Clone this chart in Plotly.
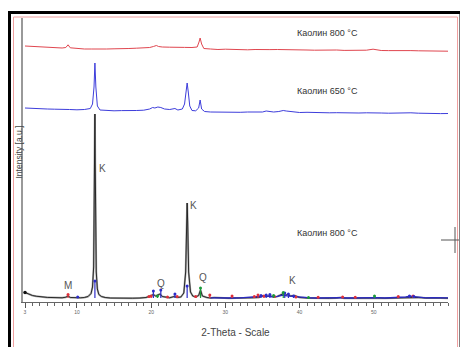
import plotly.graph_objects as go

# ---------------- data (2-Theta in degrees, intensity in counts) ----------------
raw_theta = [3.0, 3.3, 3.6, 4.0, 4.5, 5.0, 5.5, 6.0, 6.5, 7.0, 7.5, 8.0, 8.5, 8.8, 9.1, 9.5, 10.0,
             10.5, 11.0, 11.5, 11.9, 12.1, 12.25, 12.33, 12.38, 12.42, 12.46, 12.52, 12.6, 12.75,
             12.95, 13.3, 13.8, 14.5, 15.5, 16.5, 17.5, 18.5, 19.3, 19.9, 20.3, 20.6, 20.9, 21.2,
             21.5, 22.0, 22.5, 23.1, 23.5, 24.0, 24.4, 24.65, 24.78, 24.85, 24.92, 25.05, 25.3,
             25.6, 26.0, 26.4, 26.65, 26.9, 27.5, 28.0, 28.5, 29.5, 30.5, 31.5, 32.5, 33.5, 34.5,
             35.0, 35.5, 36.0, 36.5, 37.0, 37.7, 38.0, 38.4, 38.8, 39.3, 40.0, 41.0, 42.0, 43.0,
             44.0, 45.0, 45.5, 46.0, 47.0, 48.0, 49.0, 50.0, 50.5, 51.5, 52.5, 53.5, 54.5, 55.0,
             55.5, 56.0, 57.0, 58.0, 59.0, 60.0]
raw_int = [95, 85, 75, 65, 58, 52, 50, 46, 45, 44, 42, 42, 48, 60, 45, 42, 40,
           42, 45, 55, 85, 150, 350, 800, 1400, 1880, 1400, 700, 300, 130,
           75, 55, 45, 40, 38, 36, 38, 40, 45, 60, 75, 60, 70, 80,
           55, 45, 42, 55, 45, 50, 90, 300, 800, 990, 800, 300, 100,
           60, 50, 65, 120, 60, 45, 40, 45, 40, 38, 40, 38, 42, 45,
           60, 55, 62, 50, 55, 80, 65, 75, 60, 65, 45, 40, 38, 40,
           38, 40, 45, 38, 40, 38, 40, 45, 40, 38, 40, 42, 45, 50,
           48, 45, 40, 42, 40, 38]

base_theta = [28.0, 29.0, 30.0, 31.0, 32.0, 33.0, 34.0, 34.6, 35.2, 35.8, 36.4, 37.0, 37.8, 38.3,
              38.9, 39.5, 40.5, 41.5, 42.5, 43.5, 44.5, 45.5, 46.5, 47.5, 48.5, 49.5, 50.5, 51.5,
              52.5, 53.5, 54.3, 54.9, 55.5, 56.2, 57.0, 58.0, 59.0, 60.0]
base_int = [42, 40, 44, 40, 42, 45, 48, 55, 62, 58, 52, 56, 70, 62, 58, 50, 44, 42, 40, 43,
            41, 44, 40, 42, 40, 42, 44, 40, 42, 44, 50, 58, 52, 46, 42, 44, 41, 42]

k650_theta = [3.0, 4.0, 5.0, 6.0, 7.0, 8.0, 9.0, 10.0, 11.0, 11.8, 12.1, 12.3, 12.42, 12.55,
              12.75, 13.1, 14.0, 15.0, 16.0, 17.0, 18.0, 19.0, 19.8, 20.2, 20.5, 20.9, 21.3,
              21.8, 22.5, 23.2, 23.6, 24.2, 24.5, 24.7, 24.85, 25.0, 25.2, 25.5, 26.0, 26.4,
              26.6, 26.8, 27.2, 28.0, 29.0, 30.0, 31.0, 32.0, 33.0, 34.0, 35.0, 35.5, 36.0,
              36.5, 37.2, 37.8, 38.2, 38.7, 39.2, 40.0, 41.0, 42.0, 43.0, 44.0, 45.0, 46.0,
              47.0, 48.0, 49.0, 50.0, 51.0, 52.0, 53.0, 54.0, 55.0, 56.0, 57.0, 58.0, 59.0, 60.0]
k650_int = [1940, 1935, 1932, 1930, 1928, 1930, 1925, 1922, 1925, 1935, 1980, 2150, 2390, 2150,
            1960, 1920, 1915, 1912, 1914, 1912, 1915, 1918, 1930, 1945, 1940, 1950, 1945,
            1930, 1925, 1935, 1920, 1930, 1980, 2100, 2190, 2100, 1960, 1915, 1912, 1940,
            2020, 1930, 1905, 1900, 1898, 1900, 1898, 1897, 1900, 1902, 1900, 1910, 1905,
            1900, 1905, 1915, 1910, 1905, 1900, 1895, 1897, 1893, 1895, 1892, 1893, 1890,
            1892, 1890, 1892, 1888, 1890, 1888, 1890, 1886, 1892, 1888, 1885, 1887, 1884, 1885]

k800_theta = [3.0, 4.0, 5.0, 6.0, 7.0, 8.0, 8.5, 8.8, 9.1, 10.0, 11.0, 12.0, 13.0, 14.0, 15.0,
              16.0, 17.0, 18.0, 19.0, 19.8, 20.3, 20.7, 21.0, 21.5, 22.5, 23.5, 24.5, 25.5, 26.2,
              26.45, 26.6, 26.8, 27.1, 28.0, 29.0, 30.0, 31.0, 32.0, 33.0, 34.0, 35.0, 36.0,
              37.0, 38.0, 39.0, 40.0, 41.0, 42.0, 43.0, 44.0, 45.0, 46.0, 47.0, 48.0, 49.0,
              49.9, 51.0, 52.0, 53.0, 54.0, 55.0, 56.0, 57.0, 58.0, 59.0, 60.0]
k800_int = [2560, 2555, 2550, 2545, 2545, 2540, 2545, 2572, 2542, 2535, 2530, 2530, 2528, 2530,
            2532, 2530, 2535, 2538, 2540, 2545, 2555, 2565, 2555, 2550, 2548, 2550, 2546, 2545,
            2550, 2600, 2640, 2580, 2535, 2530, 2525, 2528, 2524, 2525, 2522, 2525, 2528, 2524,
            2525, 2522, 2520, 2522, 2520, 2518, 2520, 2518, 2520, 2516, 2518, 2515, 2518,
            2528, 2515, 2514, 2516, 2512, 2514, 2512, 2510, 2512, 2510, 2508]

# phase reference sticks (position, top intensity)
red_stick_pos = [8.8, 19.7, 20.0, 22.2, 23.5, 26.0, 27.9, 30.9, 33.9, 34.4, 35.2, 36.6, 39.5,
                 42.5, 45.8, 47.5, 53.3, 55.3]
red_stick_int = [75, 55, 60, 50, 55, 55, 70, 60, 55, 70, 60, 55, 50, 48, 50, 48, 55, 60]
blue_stick_pos = [10.1, 12.42, 20.3, 21.3, 23.2, 24.85, 34.8, 35.5, 36.0, 38.0, 38.5, 39.2,
                  54.8, 55.4]
blue_stick_int = [50, 210, 110, 120, 80, 160, 65, 70, 75, 90, 80, 60, 60, 55]
green_stick_pos = [20.85, 26.65, 36.5, 37.8, 41.2, 50.1]
green_stick_int = [60, 140, 65, 95, 45, 60]
stick_base = 40

phase_labels = ["M", "K", "Q", "K", "Q", "K"]
phase_label_theta = [8.8, 13.5, 21.3, 25.7, 27.0, 39.0]
phase_label_int = [170, 1340, 190, 970, 250, 220]

sample_labels = ["Каолин 800 °C", "Каолин 650 °C", "Каолин 800 °C"]
sample_label_int = [2690, 2110, 690]
sample_label_theta = 39.4

tick_vals = [3, 10, 20, 30, 40, 50]
tick_text = ["3", "10", "20", "30", "40", "50"]
minor_vals = list(range(3, 61))

X_RANGE = [2.73, 60.0]
Y_RANGE = [0, 2840]

FONT = "Liberation Sans, Arial, sans-serif"

fig = go.Figure()

fig.add_trace(go.Scatter(x=k800_theta, y=k800_int, mode="lines",
                         line=dict(color="#e0464f", width=1), hoverinfo="skip"))
fig.add_trace(go.Scatter(x=k650_theta, y=k650_int, mode="lines",
                         line=dict(color="#3d3ddb", width=1), hoverinfo="skip"))
# grey halo for raw kaolin pattern then black line
fig.add_trace(go.Scatter(x=raw_theta, y=raw_int, mode="lines",
                         line=dict(color="#a8a8a8", width=2), hoverinfo="skip"))
fig.add_trace(go.Scatter(x=raw_theta, y=raw_int, mode="lines",
                         line=dict(color="#1a1a1a", width=0.9), hoverinfo="skip"))
fig.add_trace(go.Scatter(x=raw_theta[:1], y=raw_int[:1], mode="markers",
                         marker=dict(color="#111111", size=3.5), hoverinfo="skip"))
fig.add_trace(go.Scatter(x=base_theta, y=base_int, mode="lines",
                         line=dict(color="#2a2ac0", width=1.3), hoverinfo="skip"))


def sticks(pos, ints, color):
    xs, ys = [], []
    for p, v in zip(pos, ints):
        xs += [p, p, None]
        ys += [stick_base, v, None]
    fig.add_trace(go.Scatter(x=xs, y=ys, mode="lines", line=dict(color=color, width=1.2),
                             hoverinfo="skip"))
    fig.add_trace(go.Scatter(x=pos, y=ints, mode="markers",
                             marker=dict(color=color, size=3), hoverinfo="skip"))


sticks(red_stick_pos, red_stick_int, "#e0303a")
sticks(blue_stick_pos, blue_stick_int, "#2c2cc8")
sticks(green_stick_pos, green_stick_int, "#1a9a3a")

for t, th, v in zip(phase_labels, phase_label_theta, phase_label_int):
    fig.add_annotation(x=th, y=v, text=t, showarrow=False,
                       font=dict(family=FONT, size=10, color="#555555"))

for t, v in zip(sample_labels, sample_label_int):
    fig.add_annotation(x=sample_label_theta, y=v, text=t, showarrow=False, xanchor="left",
                       font=dict(family=FONT, size=9, color="#333333"))

# geometry helpers: plot area spans px 23..448 horizontally, 18..302 vertically
L, R, T, B = 23, 448, 18, 302


def px(xp):
    return (xp - L) / (R - L)


def py(yp):
    return (B - yp) / (B - T)


fig.add_annotation(xref="paper", yref="paper", x=px(18.5), y=py(152), text="Intensity [a.u.]",
                   textangle=-90, showarrow=False, xanchor="center", yanchor="middle",
                   font=dict(family=FONT, size=8.5, color="#444444"))

shapes = [
    dict(type="rect", xref="paper", yref="paper", x0=px(9.5), x1=px(461), y0=py(12.5), y1=py(360),
         line=dict(color="black", width=3)),
    dict(type="rect", xref="paper", yref="paper", x0=px(13.5), x1=px(457.5), y0=py(17), y1=py(352),
         line=dict(color="#f0a0a0", width=1)),
    dict(type="line", xref="paper", yref="paper", x0=px(441), x1=px(459), y0=py(240), y1=py(240),
         line=dict(color="#555555", width=1)),
    dict(type="line", xref="paper", yref="paper", x0=px(455), x1=px(455), y0=py(227), y1=py(253),
         line=dict(color="#555555", width=1)),
]

fig.update_layout(
    width=460, height=347,
    margin=dict(l=L, r=460 - R, t=T, b=347 - B),
    paper_bgcolor="white", plot_bgcolor="white",
    showlegend=False,
    shapes=shapes,
    font=dict(family=FONT),
    xaxis=dict(range=X_RANGE, showgrid=False, zeroline=False, showline=True,
               linecolor="#666666", linewidth=1,
               tickmode="array", tickvals=tick_vals, ticktext=tick_text,
               ticks="outside", ticklen=5, tickcolor="#555555", tickwidth=1,
               tickfont=dict(size=5, color="#666666"),
               minor=dict(tickvals=minor_vals, ticks="outside", ticklen=3,
                          tickcolor="#666666", tickwidth=1),
               title=dict(text="2-Theta - Scale", font=dict(size=10, color="#444444"),
                          standoff=14)),
    yaxis=dict(range=Y_RANGE, showgrid=False, zeroline=False, showline=True,
               linecolor="#999999", linewidth=2, showticklabels=False, ticks=""),
)

fig.write_html("out.html")
